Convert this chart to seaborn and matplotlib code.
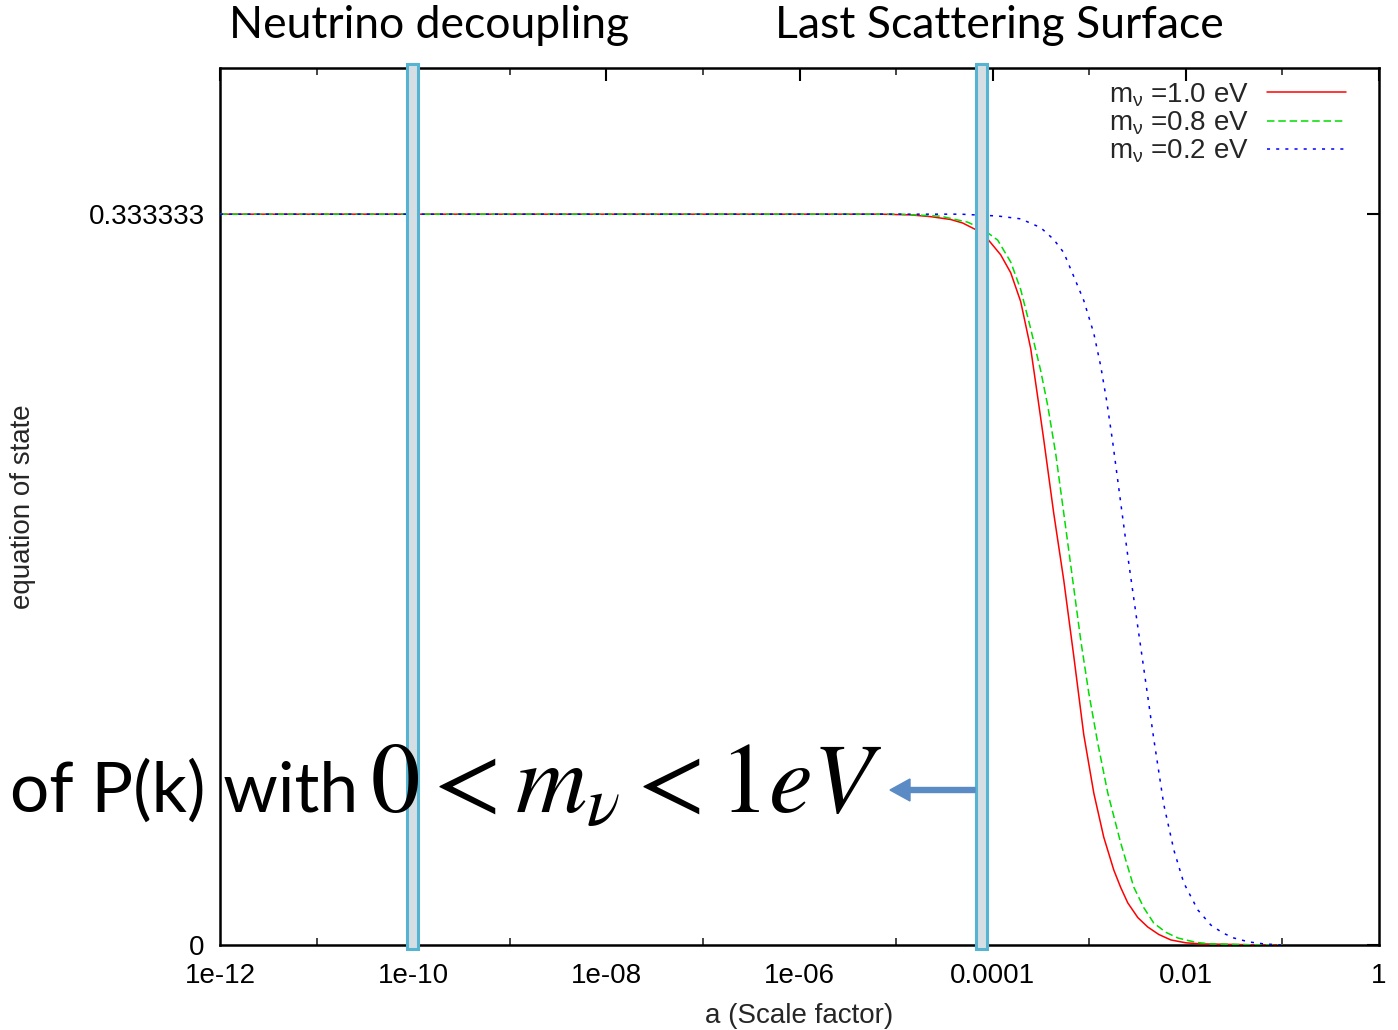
import numpy as np
import pandas as pd
import matplotlib
matplotlib.use("Agg")
import matplotlib.pyplot as plt
import seaborn as sns
from matplotlib.lines import Line2D
from matplotlib.patches import FancyArrow

sns.set_theme(style="white")
plt.rcParams['font.family'] = ['Liberation Sans', 'DejaVu Sans']
plt.rcParams['mathtext.fontset'] = 'custom'
plt.rcParams['mathtext.rm'] = 'Liberation Sans'
plt.rcParams['mathtext.it'] = 'Liberation Sans'

# ---- data (log10 a, w) ----
red_loga = [-12.0, -8.0, -6.0, -5.161, -4.850, -4.642, -4.435, -4.311, -4.176, -4.052, -3.917,
            -3.813, -3.710, -3.606, -3.534, -3.472, -3.368, -3.264, -3.161, -3.057, -2.953,
            -2.850, -2.746, -2.674, -2.601, -2.497, -2.394, -2.280, -2.155, -2.0, -1.845,
            -1.326, -1.0]
red_w = [0.33333, 0.33333, 0.33333, 0.33333, 0.3330, 0.3322, 0.3309, 0.3293, 0.3263, 0.3220, 0.3148,
         0.3066, 0.2935, 0.2720, 0.2500, 0.2308, 0.1970, 0.1664, 0.1320, 0.0960, 0.0693,
         0.0492, 0.0342, 0.0262, 0.0192, 0.0125, 0.0082, 0.0048, 0.0023, 0.0010, 0.0005,
         0.0001, 0.0]

green_loga = [-12.0, -8.0, -6.0, -4.953, -4.539, -4.259, -4.093, -3.948, -3.813, -3.710, -3.606,
              -3.503, -3.430, -3.347, -3.264, -3.171, -3.088, -3.005, -2.912, -2.808, -2.674,
              -2.539, -2.435, -2.332, -2.207, -2.083, -1.896, -1.741, -1.326, -1.0]
green_w = [0.33333, 0.33333, 0.33333, 0.33333, 0.3324, 0.3297, 0.3262, 0.3215, 0.3115, 0.2990, 0.2810,
           0.2620, 0.2460, 0.2240, 0.1970, 0.1664, 0.1390, 0.1150, 0.0921, 0.0693, 0.0465,
           0.0264, 0.0170, 0.0100, 0.0058, 0.0032, 0.0012, 0.0005, 0.0001, 0.0]

blue_loga = [-12.0, -8.0, -6.0, -4.332, -3.948, -3.710, -3.503, -3.368, -3.264, -3.161, -3.057,
             -2.953, -2.881, -2.819, -2.756, -2.674, -2.591, -2.497, -2.435, -2.332, -2.228,
             -2.124, -2.021, -1.876, -1.741, -1.617, -1.503, -1.347, -1.192, -1.0]
blue_w = [0.33333, 0.33333, 0.33333, 0.33333, 0.3325, 0.3312, 0.3272, 0.3218, 0.3158, 0.3050, 0.2940,
          0.2790, 0.2640, 0.2480, 0.2290, 0.2016, 0.1742, 0.1450, 0.1260, 0.0940, 0.0640,
          0.0433, 0.0283, 0.0160, 0.0091, 0.0055, 0.0032, 0.0014, 0.0005, 0.0]

series_labels = [r"m$_\nu$ =1.0 eV", r"m$_\nu$ =0.8 eV", r"m$_\nu$ =0.2 eV"]
x_tick_labels = ["1e-12", "1e-10", "1e-08", "1e-06", "0.0001", "0.01", "1"]
y_tick_labels = ["0", "0.333333"]
band_ranges = [(-10.062, -9.948), (-4.176, -4.062)]

# ---- figure ----
W, H = 1398, 1030
fig = plt.figure(figsize=(W / 100, H / 100), dpi=100)
fig.patch.set_facecolor('white')
ax = fig.add_axes([220 / W, (H - 945) / H, 1159 / W, 877 / H])

styles = [dict(color='#ff0000', linestyle='-'),
          dict(color='#00dd00', linestyle=(0, (4.9, 2.5))),
          dict(color='#0000ff', linestyle=(0, (2.0, 4.0)))]
all_series = [(red_loga, red_w), (green_loga, green_w), (blue_loga, blue_w)]
handles = []
for (lx, w), lab, st in zip(all_series, series_labels, styles):
    df = pd.DataFrame({'a': 10.0 ** np.array(lx), 'w': w})
    sns.lineplot(data=df, x='a', y='w', ax=ax, estimator=None, sort=False,
                 color=st['color'], linestyle=st['linestyle'], linewidth=1.1, zorder=3)
    handles.append(Line2D([0], [0], color=st['color'], linestyle=st['linestyle'], linewidth=1.1, label=lab))

ax.set_xscale('log')
ax.set_xlim(1e-12, 1)
ax.set_ylim(0, 0.4)

major = [10.0 ** p for p in range(-12, 1, 2)]
minor = [10.0 ** p for p in range(-11, 0, 2)]
ax.set_xticks(major)
ax.set_xticklabels(x_tick_labels)
ax.xaxis.set_minor_locator(matplotlib.ticker.FixedLocator(minor))
ax.xaxis.set_minor_formatter(matplotlib.ticker.NullFormatter())
ax.set_yticks([0, 1 / 3])
ax.set_yticklabels(y_tick_labels)
ax.tick_params(axis='both', which='major', direction='in', length=9, width=1.5,
               top=True, right=True, labelsize=20, colors='black', pad=11)
ax.tick_params(axis='x', which='major', pad=13)
ax.tick_params(axis='x', which='minor', direction='in', length=5, width=1.2, top=True, bottom=True)
for s in ax.spines.values():
    s.set_color('black')
    s.set_linewidth(1.8)

ax.set_xlabel("a (Scale factor)", fontsize=20, labelpad=10)
ax.set_ylabel("equation of state", fontsize=20)
ax.yaxis.set_label_coords(-0.159, 0.5)

ax.legend(handles=handles, loc='upper right', bbox_to_anchor=(0.9715, 0.985), frameon=False,
          markerfirst=False, fontsize=20, handlelength=2.85, handletextpad=0.65,
          labelspacing=0.03, borderpad=0, borderaxespad=0)

# highlighted bands
for lo, hi in band_ranges:
    ax.axvspan(10 ** lo, 10 ** hi, ymin=-0.004, ymax=1.004, facecolor='#d5dfe3',
               edgecolor='#55b4d2', linewidth=2.2, zorder=5, clip_on=False)

# titles above
fig.text(429 / W, 1 - 25 / H, "Neutrino decoupling", fontsize=32, family=['Lato', 'DejaVu Sans'],
         ha='center', va='center', color='black')
fig.text(999 / W, 1 - 25 / H, "Last Scattering Surface", fontsize=32, family=['Lato', 'DejaVu Sans'],
         ha='center', va='center', color='black')

# overlay text
fig.text(10 / W, 1 - 812 / H, "of P(k) with", fontsize=50, family=['Lato', 'DejaVu Sans'],
         ha='left', va='baseline', color='black', zorder=10)
fig.text(370 / W, 1 - 812 / H, r"$0 < m_\nu < 1eV$", fontsize=71, math_fontfamily='stix',
         ha='left', va='baseline', color='black', zorder=10)

# arrow
arr = FancyArrow(975 / W, 1 - 790 / H, -85 / W, 0, width=5 / H, head_width=22 / H,
                 head_length=20 / W, length_includes_head=True, transform=fig.transFigure,
                 color='#5b8bc5', zorder=10)
fig.patches.append(arr)

fig.savefig("out.png", dpi=100, facecolor='white')
